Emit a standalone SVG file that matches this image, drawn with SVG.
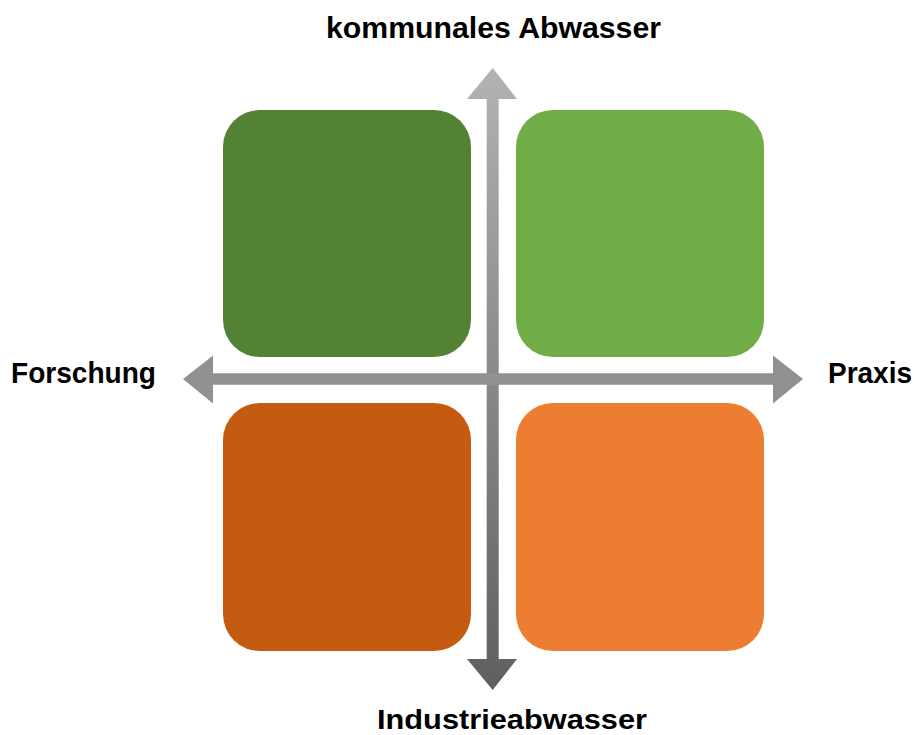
<svg xmlns="http://www.w3.org/2000/svg" width="914" height="735" viewBox="0 0 914 735">
<defs>
<linearGradient id="gv" x1="0" y1="68" x2="0" y2="690" gradientUnits="userSpaceOnUse">
<stop offset="0" stop-color="#b3b3b3"/>
<stop offset="1" stop-color="#5f5f5f"/>
</linearGradient>
<style>
.lbl{font-family:"Liberation Sans",Arial,sans-serif;font-weight:bold;font-size:29px;fill:#000}
</style>
</defs>
<rect width="914" height="735" fill="#fff"/>
<g id="q-tl"><rect x="223" y="110" width="248" height="247" rx="37" fill="#548235"/></g>
<g id="q-tr"><rect x="516" y="110" width="248" height="247" rx="37" fill="#70ad47"/></g>
<g id="q-bl"><rect x="223" y="403" width="248" height="248" rx="37" fill="#c55a11"/></g>
<g id="q-br"><rect x="516" y="403" width="248" height="248" rx="37" fill="#ed7d31"/></g>
<g id="connectors">
<polygon id="axis-v" fill="url(#gv)" points="492.7,68 517,99 498.7,99 498.7,659 517,659 492.7,690 467,659 486.7,659 486.7,99 467,99"/>
<polygon id="axis-h" fill="#919191" points="183,379 213,355.5 213,373.3 773,373.3 773,355.5 803,379 773,403.5 773,384.7 213,384.7 213,403.5"/>
</g>
<g id="t-top"><text class="lbl" x="326" y="38" textLength="335" lengthAdjust="spacingAndGlyphs">kommunales Abwasser</text></g>
<g id="t-left"><text class="lbl" x="11" y="383" textLength="145" lengthAdjust="spacingAndGlyphs">Forschung</text></g>
<g id="t-right"><text class="lbl" x="828" y="383" textLength="84" lengthAdjust="spacingAndGlyphs">Praxis</text></g>
<g id="t-bottom"><text class="lbl" x="377" y="729" style="font-size:28px" textLength="270" lengthAdjust="spacingAndGlyphs">Industrieabwasser</text></g>
</svg>
